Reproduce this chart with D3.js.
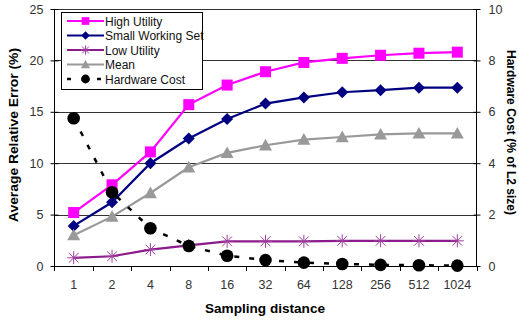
<!DOCTYPE html>
<html><head><meta charset="utf-8">
<script src="https://cdn.jsdelivr.net/npm/d3@7"></script>
<style>body{margin:0;background:#fff;} svg{display:block;font-family:Arial,"Liberation Sans",sans-serif;}</style>
</head><body>
<svg id="c" width="519" height="322"></svg>
<script>
const categories = ["1","2","4","8","16","32","64","128","256","512","1024"];
const highUtility = [5.2, 7.9, 11.1, 15.7, 17.6, 18.9, 19.8, 20.2, 20.5, 20.7, 20.8];
const smallWorkingSet = [3.9, 6.2, 10.0, 12.4, 14.3, 15.8, 16.4, 16.9, 17.1, 17.35, 17.35];
const lowUtility = [0.8, 0.95, 1.6, 2.0, 2.4, 2.4, 2.4, 2.45, 2.45, 2.45, 2.45];
const meanErr = [3.0, 4.8, 7.1, 9.6, 11.0, 11.75, 12.3, 12.55, 12.8, 12.9, 12.9];
const hardwareCost = [5.75, 2.87, 1.47, 0.78, 0.40, 0.23, 0.13, 0.08, 0.045, 0.03, 0.015];
const leftTicks = [0,5,10,15,20,25];
const rightTicks = [0,2,4,6,8,10];

const svg = d3.select("#c");
const L = 54.5, R = 476.5, T = 9, B = 266;
const FONT = "Arial,'Liberation Sans',sans-serif";
const x = d3.scaleBand().domain(categories).range([L, R]);
const xc = d => x(d) + x.bandwidth()/2;
const yL = d3.scaleLinear().domain([0,25]).range([B, T]);
const yR = d3.scaleLinear().domain([0,10]).range([B, T]);

// gridlines
svg.append("g").selectAll("line").data(leftTicks.filter(d=>d>0)).join("line")
  .attr("x1", L).attr("x2", R).attr("y1", d=>Math.round(yL(d))+0.5).attr("y2", d=>Math.round(yL(d))+0.5)
  .attr("stroke", "#333").attr("stroke-width", 1);

// left axis
const gl = svg.append("g").attr("transform", `translate(${L},0)`)
  .call(d3.axisLeft(yL).tickValues(leftTicks).tickSize(4).tickPadding(7));
gl.select(".domain").remove();
gl.append("line").attr("x1",0).attr("x2",0).attr("y1",T).attr("y2",B).attr("stroke","#000");
gl.selectAll(".tick line").attr("x2",-4).attr("x1",4).attr("stroke","#000");
gl.selectAll(".tick text").attr("font-size", 12.5).attr("fill","#333").attr("font-family",FONT);

// right axis
const gr = svg.append("g").attr("transform", `translate(${R},0)`)
  .call(d3.axisRight(yR).tickValues(rightTicks).tickSize(4).tickPadding(8));
gr.select(".domain").remove();
gr.append("line").attr("x1",0).attr("x2",0).attr("y1",T).attr("y2",B).attr("stroke","#000");
gr.selectAll(".tick line").attr("x1",-3).attr("x2",4).attr("stroke","#000");
gr.selectAll(".tick text").attr("font-size", 12.5).attr("fill","#333").attr("font-family",FONT);

// x axis
const gx = svg.append("g").attr("transform", `translate(0,${B})`)
  .call(d3.axisBottom(x).tickSize(0).tickPadding(14));
gx.select(".domain").remove();
gx.append("line").attr("x1",L).attr("x2",R).attr("y1",0.5).attr("y2",0.5).attr("stroke","#000");
const bounds = categories.map(c => x(c)).concat([R]);
gx.selectAll(".bt").data(bounds).join("line").attr("class","bt")
  .attr("x1", d=>Math.round(d)+0.5).attr("x2", d=>Math.round(d)+0.5).attr("y1",0).attr("y2",5).attr("stroke","#000");
gx.selectAll(".tick text").attr("font-size", 12.5).attr("fill","#333").attr("font-family",FONT);

// titles
svg.append("text").attr("x", 265).attr("y", 312.5).attr("text-anchor","middle")
  .attr("font-size", 13.5).attr("font-weight","bold").attr("textLength",120).attr("lengthAdjust","spacingAndGlyphs").text("Sampling distance");
svg.append("text").attr("transform","translate(18,135) rotate(-90)").attr("text-anchor","middle")
  .attr("font-size", 13).attr("font-weight","bold").attr("textLength",174).attr("lengthAdjust","spacingAndGlyphs").text("Average Relative Error (%)");
svg.append("text").attr("transform","translate(507,132.5) rotate(90)").attr("text-anchor","middle")
  .attr("font-size", 13).attr("font-weight","bold").attr("textLength",165).attr("lengthAdjust","spacingAndGlyphs").text("Hardware Cost (% of L2 size)");

// series
const series = [
  {name:"High Utility", data: highUtility, color:"#FF00FF", marker:"square", y:yL},
  {name:"Small Working Set", data: smallWorkingSet, color:"#000080", marker:"diamond", y:yL},
  {name:"Low Utility", data: lowUtility, color:"#8B1A8B", marker:"star", y:yL},
  {name:"Mean", data: meanErr, color:"#999999", marker:"triangle", y:yL},
  {name:"Hardware Cost", data: hardwareCost, color:"#000000", marker:"circle", y:yR, dash:"5,10"}
];

function drawMarker(g, type, color, cx, cy, scale) {
  const s = scale || 1;
  if (type === "square") {
    g.append("rect").attr("x", cx-5.5*s).attr("y", cy-5.5*s).attr("width", 11*s).attr("height", 11*s).attr("fill", color);
  } else if (type === "diamond") {
    const r = 6*s;
    g.append("path").attr("d", `M${cx},${cy-r}L${cx+r},${cy}L${cx},${cy+r}L${cx-r},${cy}Z`).attr("fill", color);
  } else if (type === "triangle") {
    const r = 6.5*s;
    g.append("path").attr("d", `M${cx},${cy-r}L${cx+r},${cy+r*0.8}L${cx-r},${cy+r*0.8}Z`).attr("fill", color);
  } else if (type === "circle") {
    g.append("circle").attr("cx", cx).attr("cy", cy).attr("r", 6.3*s).attr("fill", color);
  } else if (type === "star") {
    const r = 6.5*s;
    const p = `M${cx-r},${cy}L${cx+r},${cy}M${cx},${cy-r}L${cx},${cy+r}M${cx-r*0.75},${cy-r*0.75}L${cx+r*0.75},${cy+r*0.75}M${cx-r*0.75},${cy+r*0.75}L${cx+r*0.75},${cy-r*0.75}`;
    g.append("path").attr("d", p).attr("stroke", "#A040A0").attr("stroke-width", 1).attr("fill","none");
  }
}

const plot = svg.append("g");
series.forEach(s => {
  const line = d3.line().x((d,i)=>xc(categories[i])).y(d=>s.y(d));
  plot.append("path").datum(s.data).attr("d", line).attr("fill","none")
    .attr("stroke", s.color).attr("stroke-width", s.dash ? 2.5 : 2.2)
    .attr("stroke-dasharray", s.dash || null);
});
series.forEach(s => {
  const g = plot.append("g");
  s.data.forEach((d,i) => drawMarker(g, s.marker, s.color, xc(categories[i]), s.y(d)));
});

// legend
const lg = svg.append("g");
lg.append("rect").attr("x", 61.5).attr("y", 12.5).attr("width", 141).attr("height", 77)
  .attr("fill","#fff").attr("stroke","#000").attr("stroke-width",1);
series.forEach((s,i) => {
  const yy = 21 + i*14.5;
  lg.append("line").attr("x1", 67).attr("x2", 104).attr("y1", yy).attr("y2", yy)
    .attr("stroke", s.color).attr("stroke-width", s.dash ? 2.5 : 2).attr("stroke-dasharray", s.dash ? "4,11" : null);
  drawMarker(lg, s.marker, s.color, 85.5, yy, 0.7);
  lg.append("text").attr("x", 105).attr("y", yy+4.5).attr("font-size", 12).attr("fill","#111").text(s.name);
});
</script>
</body></html>
